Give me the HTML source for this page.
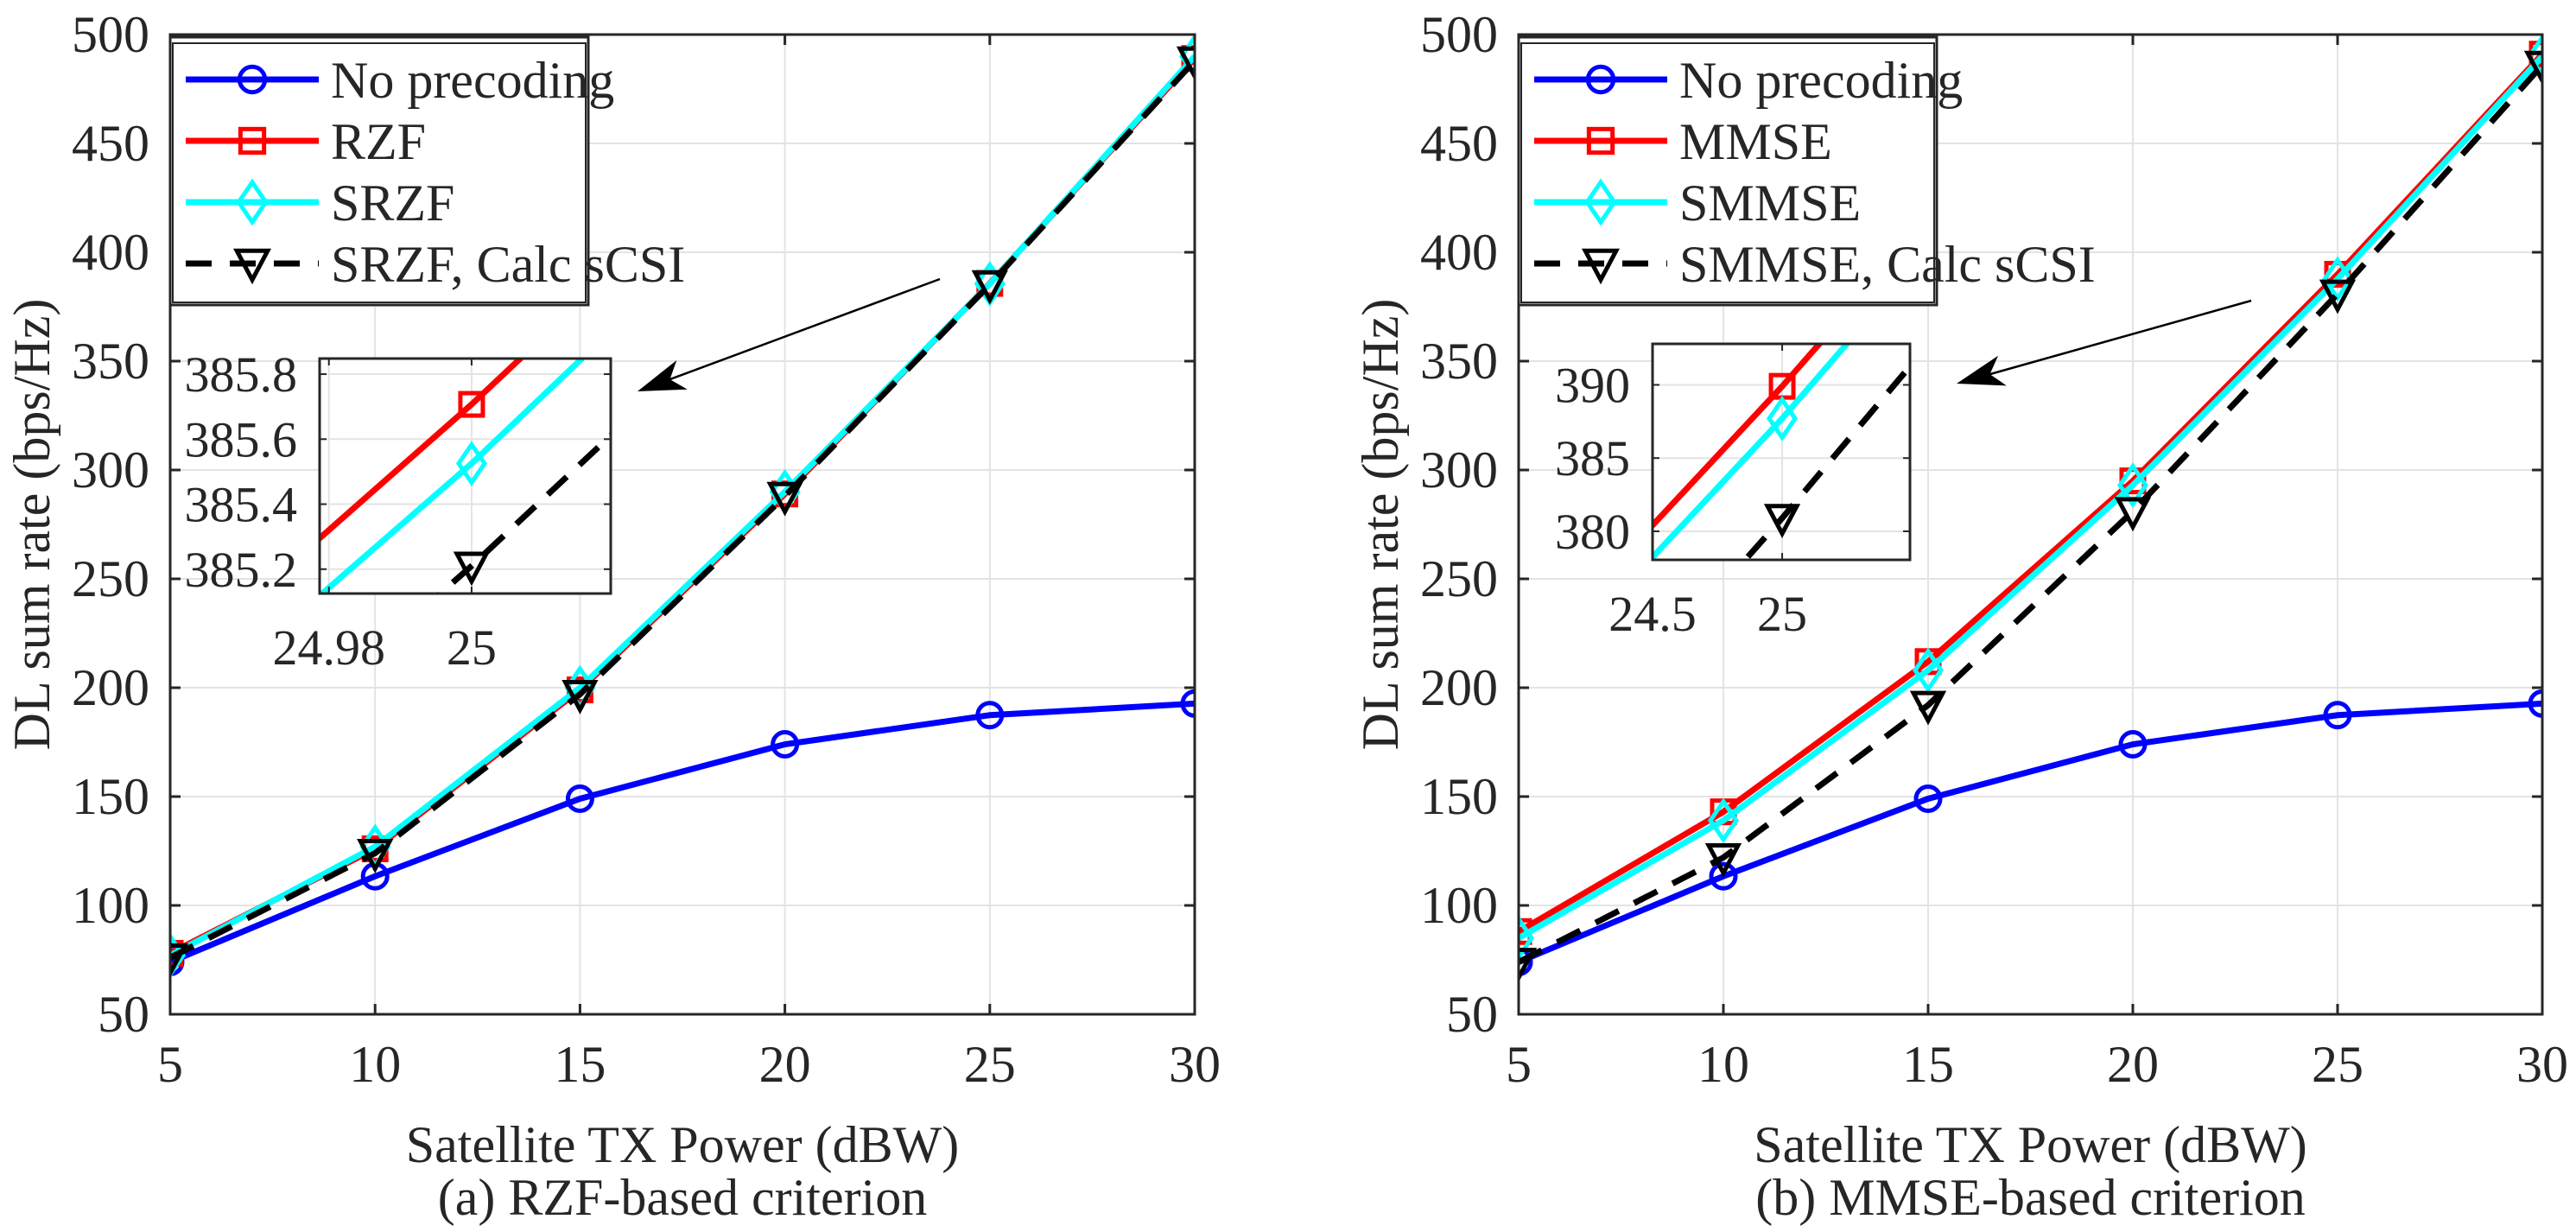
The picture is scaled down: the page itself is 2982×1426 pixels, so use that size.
<!DOCTYPE html>
<html><head><meta charset="utf-8">
<style>
html,body{margin:0;padding:0;background:#fff;overflow:hidden;width:2982px;height:1426px;}
svg{position:absolute;left:0;top:0;display:block;}
svg text{font-family:"Liberation Serif","DejaVu Serif",serif;fill:#262626;}
</style></head>
<body>
<svg id="fig" width="2982" height="1426" viewBox="0 0 2982 1426" font-family="Liberation Serif, DejaVu Serif, serif" xmlns="http://www.w3.org/2000/svg">
<defs>
<clipPath id="clipA"><rect x="197" y="40" width="1186" height="1134"/></clipPath>
<clipPath id="clipB"><rect x="1758" y="40" width="1186" height="1134"/></clipPath>
<clipPath id="clipIA"><rect x="370" y="415" width="337" height="272"/></clipPath>
<clipPath id="clipIB"><rect x="1913" y="398" width="298" height="250"/></clipPath>
</defs>
</svg>
<script>
// ---- data ----
const xPower = [5, 10, 15, 20, 25, 30];
const xTicks = [5, 10, 15, 20, 25, 30];
const yTicks = [50, 100, 150, 200, 250, 300, 350, 400, 450, 500];
const noPrecoding = [74, 113.4, 149, 174, 187.4, 192.7];
const rzf = [78, 126, 199, 289, 385.707, 489];
const srzf = [77, 127, 200, 290, 385.525, 490];
const srzfCalc = [76, 124, 197, 288, 385.21, 488];
const mmse = [88, 143, 212, 295, 389.9, 491];
const smmse = [85, 139, 208, 293, 387.7, 490];
const smmseCalc = [74, 122, 192, 281, 380.9, 486];
const insetATicksX = [24.98, 25];
const insetATicksY = [385.2, 385.4, 385.6, 385.8];
const insetBTicksX = [24.5, 25];
const insetBTicksY = [380, 385, 390];
const legendA = ["No precoding", "RZF", "SRZF", "SRZF, Calc sCSI"];
const legendB = ["No precoding", "MMSE", "SMMSE", "SMMSE, Calc sCSI"];

const NS = "http://www.w3.org/2000/svg";
const FONT = '"Liberation Serif", "DejaVu Serif", serif';
const svg = document.getElementById('fig');
function mk(tag, attrs, parent){
  const e = document.createElementNS(NS, tag);
  for (const k in attrs) e.setAttribute(k, attrs[k]);
  if (tag === 'text') { e.setAttribute('font-family', 'Liberation Serif'); e.style.fontFamily = FONT; }
  (parent||svg).appendChild(e);
  return e;
}
const styles = [
  {color:'#0000ff', marker:'circle', dash:null},
  {color:'#ff0000', marker:'square', dash:null},
  {color:'#00ffff', marker:'diamond', dash:null},
  {color:'#000000', marker:'tri', dash:'30 20'}
];
function marker(g, type, cx, cy, color, s){
  s = s||1;
  let m;
  if (type==='circle') m = mk('circle',{cx:cx,cy:cy,r:14*s,fill:'none',stroke:color,'stroke-width':5},g);
  else if (type==='square') m = mk('rect',{x:cx-13*s,y:cy-13*s,width:26*s,height:26*s,fill:'none',stroke:color,'stroke-width':5},g);
  else if (type==='diamond') m = mk('polygon',{points:`${cx},${cy-22*s} ${cx+15*s},${cy} ${cx},${cy+22*s} ${cx-15*s},${cy}`,fill:'none',stroke:color,'stroke-width':5},g);
  else m = mk('polygon',{points:`${cx-17*s},${cy-14*s} ${cx+17*s},${cy-14*s} ${cx},${cy+18*s}`,fill:'none',stroke:color,'stroke-width':5},g);
  
  
}
function drawSeries(g, vals, st, fx, fy, clip, name, markerFilter){
  const pts = xPower.map((x,i)=>fx(x)+','+fy(vals[i])).join(' ');
  const pl = mk('polyline',{points:pts,fill:'none',stroke:st.color,'stroke-width':7,'clip-path':'url(#'+clip+')'},g);
  if (st.dash) pl.setAttribute('stroke-dasharray', st.dash);
  
  
  const mg = mk('g',{'clip-path':'url(#'+clip+')'},g);
  xPower.forEach((x,i)=>{ if(!markerFilter || markerFilter(x)) marker(mg, st.marker, fx(x), fy(vals[i]), st.color); });
}

function panel(id, L, T, W, H, series, names, labels, caption, inset, arrow){
  const R = L+W, B = T+H;
  const fx = v => L + (v-5)/25*W;
  const fy = v => T + (500-v)/450*H;
  const g = mk('g',{});
  
  
  xTicks.forEach(t=>{ mk('line',{x1:fx(t),x2:fx(t),y1:T,y2:B,stroke:'#e3e3e3','stroke-width':2},g); });
  yTicks.forEach(t=>{ mk('line',{x1:L,x2:R,y1:fy(t),y2:fy(t),stroke:'#e3e3e3','stroke-width':2},g); });
  const clip = id==='a'?'clipA':'clipB';
  series.forEach((vals,i)=>drawSeries(g, vals, styles[i], fx, fy, clip, id+'-'+names[i]));
  const box = mk('rect',{x:L,y:T,width:W,height:H,fill:'none',stroke:'#262626','stroke-width':3},g);
  
  
  xTicks.forEach(t=>{
    mk('line',{x1:fx(t),x2:fx(t),y1:B,y2:B-12,stroke:'#262626','stroke-width':3},g);
    mk('line',{x1:fx(t),x2:fx(t),y1:T,y2:T+12,stroke:'#262626','stroke-width':3},g);
    const tx = mk('text',{x:fx(t),y:B+78,'font-size':60,'text-anchor':'middle'},g);
    tx.textContent = t;
    
    
  });
  yTicks.forEach(t=>{
    mk('line',{x1:L,x2:L+12,y1:fy(t),y2:fy(t),stroke:'#262626','stroke-width':3},g);
    mk('line',{x1:R,x2:R-12,y1:fy(t),y2:fy(t),stroke:'#262626','stroke-width':3},g);
    const ty = mk('text',{x:L-24,y:fy(t)+20,'font-size':60,'text-anchor':'end'},g);
    ty.textContent = t;
    
    
  });
  const yl = mk('text',{x:0,y:0,'font-size':60,'text-anchor':'middle',transform:`translate(${L-140},${(T+B)/2}) rotate(-90)`},g);
  yl.textContent = 'DL sum rate (bps/Hz)';
  
  
  const xl = mk('text',{x:(L+R)/2,y:1345,'font-size':60,'text-anchor':'middle'},g);
  xl.textContent = 'Satellite TX Power (dBW)';
  
  
  const cp = mk('text',{x:(L+R)/2,y:1406,'font-size':60,'text-anchor':'middle'},g);
  cp.textContent = caption;
  
  

  const lg = mk('g',{},g);
  
  
  mk('rect',{x:L,y:T+3,width:484,height:310,fill:'#fff',stroke:'#262626','stroke-width':3},lg);
  mk('rect',{x:L+3,y:T+10,width:478,height:300,fill:'none',stroke:'#262626','stroke-width':2},lg);
  labels.forEach((lab,i)=>{
    const y = T+52+i*71;
    const st = styles[i];
    const ln = mk('line',{x1:L+18,x2:L+172,y1:y,y2:y,stroke:st.color,'stroke-width':7},lg);
    if (st.dash) ln.setAttribute('stroke-dasharray','30 21');
    marker(lg, st.marker, L+95, y, st.color, 1.05);
    const t = mk('text',{x:L+186,y:y+21,'font-size':60,fill:'#000'},lg);
    t.textContent = lab;
    
    
  });

  const ig = mk('g',{},g);
  
  
  const ix = v => inset.L + (v-inset.x0)/(inset.x1-inset.x0)*inset.W;
  const iy = v => inset.T + (inset.y1-v)/(inset.y1-inset.y0)*inset.H;
  mk('rect',{x:inset.L,y:inset.T,width:inset.W,height:inset.H,fill:'#fff'},ig);
  inset.tx.forEach(t=>mk('line',{x1:ix(t),x2:ix(t),y1:inset.T,y2:inset.T+inset.H,stroke:'#e3e3e3','stroke-width':2},ig));
  inset.ty.forEach(t=>mk('line',{x1:inset.L,x2:inset.L+inset.W,y1:iy(t),y2:iy(t),stroke:'#e3e3e3','stroke-width':2},ig));
  series.slice(1).forEach((vals,k)=>drawSeries(ig, vals, styles[k+1], ix, iy, inset.clip, id+'-inset-'+names[k+1], x=>x===25));
  mk('rect',{x:inset.L,y:inset.T,width:inset.W,height:inset.H,fill:'none',stroke:'#262626','stroke-width':3},ig);
  inset.tx.forEach(t=>{
    mk('line',{x1:ix(t),x2:ix(t),y1:inset.T+inset.H,y2:inset.T+inset.H-8,stroke:'#262626','stroke-width':2},ig);
    mk('line',{x1:ix(t),x2:ix(t),y1:inset.T,y2:inset.T+8,stroke:'#262626','stroke-width':2},ig);
    const tt = mk('text',{x:ix(t),y:inset.T+inset.H+82,'font-size':58,'text-anchor':'middle'},ig);
    tt.textContent = t;
    
    
  });
  inset.ty.forEach(t=>{
    mk('line',{x1:inset.L,x2:inset.L+8,y1:iy(t),y2:iy(t),stroke:'#262626','stroke-width':2},ig);
    mk('line',{x1:inset.L+inset.W,x2:inset.L+inset.W-8,y1:iy(t),y2:iy(t),stroke:'#262626','stroke-width':2},ig);
    const tt = mk('text',{x:inset.L-26,y:iy(t)+20,'font-size':58,'text-anchor':'end'},ig);
    tt.textContent = t;
    
    
  });

  const ag = mk('g',{},g);
  
  
  const [x1,y1,x2,y2] = arrow;
  const dx=x2-x1, dy=y2-y1, len=Math.hypot(dx,dy), ux=dx/len, uy=dy/len;
  const bx = x2-ux*55, by = y2-uy*55;
  mk('line',{x1:x1,y1:y1,x2:bx+ux*20,y2:by+uy*20,stroke:'#000','stroke-width':2.5},ag);
  const px=-uy, py=ux;
  mk('polygon',{points:`${x2},${y2} ${bx+px*18},${by+py*18} ${x2-ux*40},${y2-uy*40} ${bx-px*18},${by-py*18}`,fill:'#000'},ag);
}

panel('a', 197, 40, 1186, 1134,
  [noPrecoding, rzf, srzf, srzfCalc], ['no-precoding','rzf','srzf','srzf-calc'], legendA,
  '(a) RZF-based criterion',
  {L:370,T:415,W:337,H:272,x0:24.9787,x1:25.0195,y0:385.125,y1:385.848,tx:insetATicksX,ty:insetATicksY,clip:'clipIA'},
  [1088,323,738,453]);
panel('b', 1758, 40, 1185, 1134,
  [noPrecoding, mmse, smmse, smmseCalc], ['no-precoding','mmse','smmse','smmse-calc'], legendB,
  '(b) MMSE-based criterion',
  {L:1913,T:398,W:298,H:250,x0:24.5,x1:25.493,y0:378.05,y1:392.8,tx:insetBTicksX,ty:insetBTicksY,clip:'clipIB'},
  [2606,348,2265,444]);
</script>
</body></html>
